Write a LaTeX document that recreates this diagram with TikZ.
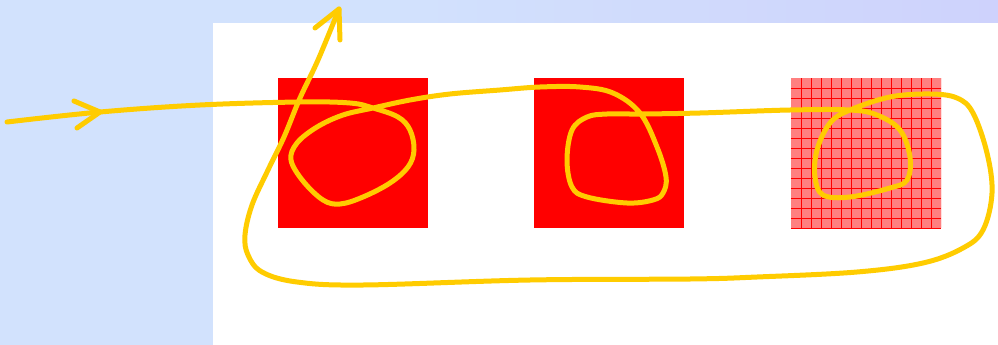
\documentclass[tikz,border=0pt]{standalone}
\begin{document}
\begin{tikzpicture}[x=1pt,y=-1pt]
\definecolor{bgblue}{RGB}{210,226,253}
\definecolor{bgmid}{RGB}{208,218,252}
\definecolor{bgright}{RGB}{206,210,252}
\definecolor{curve}{RGB}{255,204,0}
\definecolor{pinkfill}{RGB}{255,128,128}
\tikzset{
  square/.style={fill=red, draw=none, minimum size=150pt, inner sep=0pt, outer sep=0pt},
  stroke/.style={draw=curve, line width=5pt, line cap=round, line join=round},
  gridline/.style={draw=red, line width=0.7pt},
}
\useasboundingbox (0,0) rectangle (998,345);
% background
\fill[bgblue] (0,0) rectangle (998,345);
\shade[left color=bgblue, right color=bgright, middle color=bgmid] (380,0) rectangle (998,23);
\fill[white] (213,23) rectangle (998,345);
% squares
\node[square, anchor=north west] (sq1) at (278,78) {};
\node[square, anchor=north west] (sq2) at (534,78) {};
\node[square, anchor=north west, fill=pinkfill] (sq3) at (791,78) {};
\begin{scope}
  \clip (sq3.north west) rectangle (sq3.south east);
  \foreach \i in {1,...,15} {
    \draw[gridline] (791+10*\i,78) -- (791+10*\i,228);
    \draw[gridline] (791,78+10*\i) -- (941,78+10*\i);
  }
\end{scope}
% curve
\draw[stroke] plot[smooth, tension=0.6] coordinates {
  (7,122) (100,112) (200,105) (300,102) (350,103) (373,108) (398,117) (410,130)
  (414,150) (408,167) (390,183) (363,197) (340,204) (323,200) (303,181) (291,160)
  (297,143) (317,127) (343,115) (373,108) (410,100) (450,94) (500,90) (540,87)
  (580,87) (613,93) (640,113) (657,147) (666,177) (663,193) (653,200) (627,203)
  (587,197) (572,187) (567,160) (572,130) (587,117) (607,114) (640,114) (700,113)
  (790,110) (850,110) (877,115) (900,130) (910,157) (907,180) (890,188) (850,197)
  (823,195) (815,177) (817,150) (830,123) (850,110) (890,97) (930,94) (957,98)
  (973,113) (987,153) (992,193) (983,230) (963,248) (923,263) (857,272) (757,277)
  (690,279) (530,280) (363,285) (297,282) (262,272) (248,255) (245,235)
  (252,205) (268,170) (284,137) (300,98) (318,60) (339,9)
};
% arrow heads
\draw[stroke] (74,101) -- (100,112) -- (77,128);
\draw[stroke] (315,28) -- (339,9) -- (340,40);
\end{tikzpicture}
\end{document}
